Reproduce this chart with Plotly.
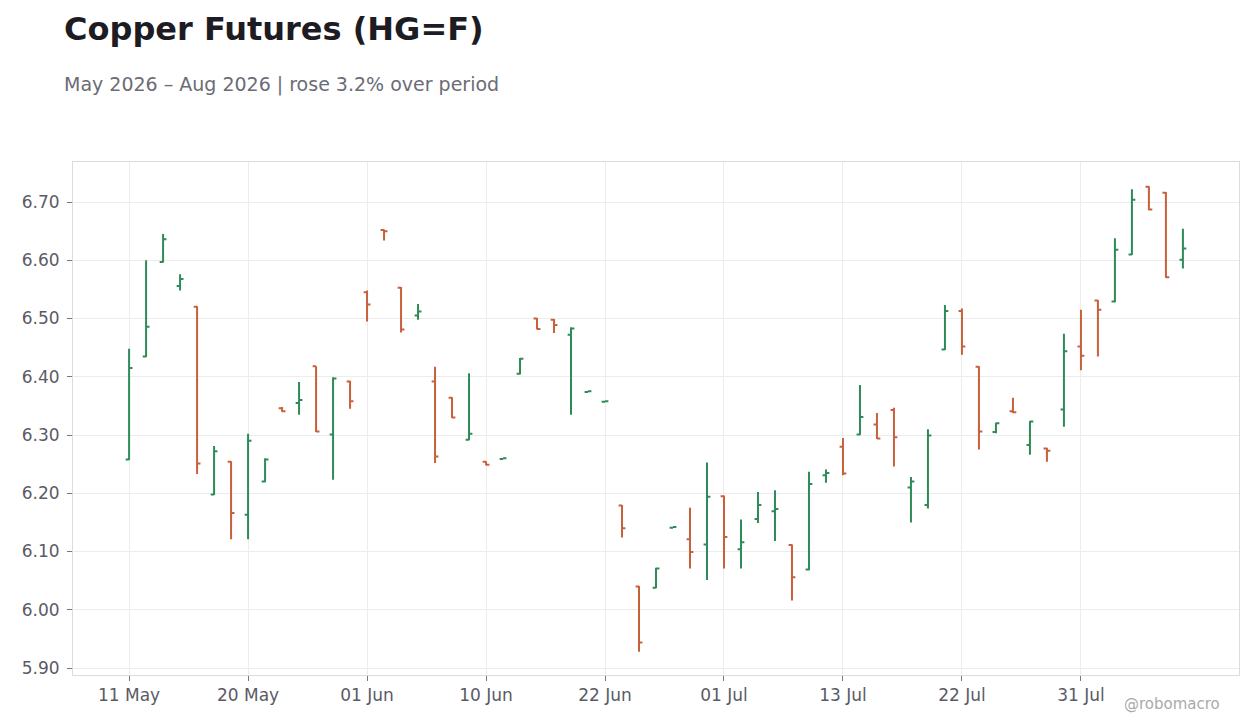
import pandas as pd
import plotly.graph_objects as go

# trading days shown on the chart (weekends + US holidays skipped)
dates = [
    "2026-05-11", "2026-05-12", "2026-05-13", "2026-05-14", "2026-05-15",
    "2026-05-18", "2026-05-19", "2026-05-20", "2026-05-21", "2026-05-22",
    "2026-05-26", "2026-05-27", "2026-05-28", "2026-05-29",
    "2026-06-01", "2026-06-02", "2026-06-03", "2026-06-04", "2026-06-05",
    "2026-06-08", "2026-06-09", "2026-06-10", "2026-06-11", "2026-06-12",
    "2026-06-15", "2026-06-16", "2026-06-17", "2026-06-18",
    "2026-06-22", "2026-06-23", "2026-06-24", "2026-06-25", "2026-06-26",
    "2026-06-29", "2026-06-30",
    "2026-07-01", "2026-07-02",
    "2026-07-06", "2026-07-07", "2026-07-08", "2026-07-09", "2026-07-10",
    "2026-07-13", "2026-07-14", "2026-07-15", "2026-07-16", "2026-07-17",
    "2026-07-20", "2026-07-21", "2026-07-22", "2026-07-23", "2026-07-24",
    "2026-07-27", "2026-07-28", "2026-07-29", "2026-07-30", "2026-07-31",
    "2026-08-03", "2026-08-04", "2026-08-05", "2026-08-06", "2026-08-07",
    "2026-08-10",
]

open_ = [
    6.258, 6.435, 6.597, 6.556, 6.520, 6.198, 6.254, 6.163, 6.220, 6.346,
    6.355, 6.418, 6.301, 6.392, 6.545, 6.652, 6.553, 6.505, 6.392, 6.364,
    6.292, 6.254, 6.259, 6.405, 6.500, 6.498, 6.472, 6.374, 6.357, 6.179,
    6.040, 6.038, 6.141, 6.121, 6.112, 6.195, 6.104, 6.156, 6.169, 6.111,
    6.069, 6.231, 6.280, 6.301, 6.318, 6.343, 6.210, 6.180, 6.447, 6.513,
    6.417, 6.305, 6.341, 6.283, 6.277, 6.344, 6.452, 6.531, 6.529, 6.610,
    6.726, 6.716, 6.601,
]
high = [
    6.448, 6.600, 6.645, 6.576, 6.521, 6.281, 6.255, 6.302, 6.260, 6.348,
    6.391, 6.418, 6.399, 6.393, 6.548, 6.653, 6.554, 6.525, 6.417, 6.365,
    6.406, 6.255, 6.260, 6.432, 6.501, 6.499, 6.485, 6.375, 6.358, 6.180,
    6.041, 6.072, 6.142, 6.175, 6.253, 6.196, 6.155, 6.202, 6.205, 6.112,
    6.237, 6.241, 6.295, 6.386, 6.338, 6.347, 6.228, 6.310, 6.523, 6.517,
    6.418, 6.321, 6.364, 6.324, 6.278, 6.474, 6.515, 6.532, 6.638, 6.722,
    6.727, 6.717, 6.654,
]
low = [
    6.257, 6.434, 6.596, 6.548, 6.233, 6.197, 6.121, 6.121, 6.219, 6.340,
    6.335, 6.305, 6.223, 6.345, 6.495, 6.634, 6.476, 6.498, 6.252, 6.329,
    6.291, 6.248, 6.259, 6.404, 6.481, 6.475, 6.335, 6.374, 6.357, 6.124,
    5.928, 6.037, 6.141, 6.071, 6.051, 6.071, 6.071, 6.149, 6.118, 6.016,
    6.068, 6.218, 6.231, 6.300, 6.293, 6.246, 6.150, 6.174, 6.446, 6.438,
    6.275, 6.303, 6.338, 6.266, 6.254, 6.314, 6.411, 6.435, 6.528, 6.609,
    6.686, 6.570, 6.586,
]
close = [
    6.415, 6.486, 6.636, 6.568, 6.251, 6.272, 6.166, 6.290, 6.258, 6.341,
    6.360, 6.306, 6.397, 6.358, 6.524, 6.650, 6.481, 6.512, 6.263, 6.330,
    6.302, 6.249, 6.260, 6.431, 6.482, 6.489, 6.483, 6.375, 6.358, 6.140,
    5.944, 6.071, 6.142, 6.099, 6.194, 6.125, 6.116, 6.180, 6.173, 6.056,
    6.216, 6.235, 6.234, 6.331, 6.294, 6.296, 6.220, 6.299, 6.513, 6.452,
    6.306, 6.320, 6.339, 6.323, 6.273, 6.444, 6.436, 6.515, 6.618, 6.704,
    6.687, 6.571, 6.620,
]

GREEN = "#2e8b57"
RED = "#c8603c"
FONT = "DejaVu Sans"

tick_dates = dates[::7]
tick_text = [pd.Timestamp(d).strftime("%d %b") for d in tick_dates]

fig = go.Figure(
    go.Ohlc(
        x=dates, open=open_, high=high, low=low, close=close,
        increasing=dict(line=dict(color=GREEN, width=2)),
        decreasing=dict(line=dict(color=RED, width=2)),
        tickwidth=0.2,
        showlegend=False,
    )
)

fig.update_xaxes(
    type="category",
    rangeslider_visible=False,
    range=[-3.3, 65.3],
    tickmode="array", tickvals=tick_dates, ticktext=tick_text,
    showgrid=True, gridcolor="#ececec", gridwidth=1,
    showline=True, linecolor="#dcdcdc", mirror=True,
    ticks="outside", ticklen=5, tickcolor="#777777",
    tickfont=dict(family=FONT, size=17, color="#5a5b66"),
)
fig.update_yaxes(
    range=[5.888, 6.7687],
    dtick=0.1, tickformat=".2f",
    showgrid=True, gridcolor="#ececec", gridwidth=1,
    zeroline=False,
    showline=True, linecolor="#dcdcdc", mirror=True,
    ticks="outside", ticklen=5, tickcolor="#777777",
    ticklabelstandoff=4,
    tickfont=dict(family=FONT, size=17, color="#5a5b66"),
)

# page body adds an 8px offset, so the margins are pulled in by 8px
fig.update_layout(
    width=1260, height=728,
    margin=dict(l=65, r=29, t=154, b=61),
    paper_bgcolor="#ffffff",
    plot_bgcolor="#ffffff",
    font=dict(family=FONT),
    annotations=[
        dict(text="<b>Copper Futures (HG=F)</b>", xref="paper", yref="paper",
             x=-0.0094, y=1.2593, xanchor="left", yanchor="middle", showarrow=False,
             font=dict(family=FONT, size=32, color="#1c1c22")),
        dict(text="May 2026 – Aug 2026 | rose 3.2% over period", xref="paper", yref="paper",
             x=-0.0094, y=1.1501, xanchor="left", yanchor="middle", showarrow=False,
             font=dict(family=FONT, size=19, color="#6b6c76")),
        dict(text="@robomacro", xref="paper", yref="paper",
             x=0.9854, y=-0.0565, xanchor="right", yanchor="middle", showarrow=False,
             font=dict(family=FONT, size=15, color="#aaaaaa")),
    ],
)

fig.write_html("out.html")
